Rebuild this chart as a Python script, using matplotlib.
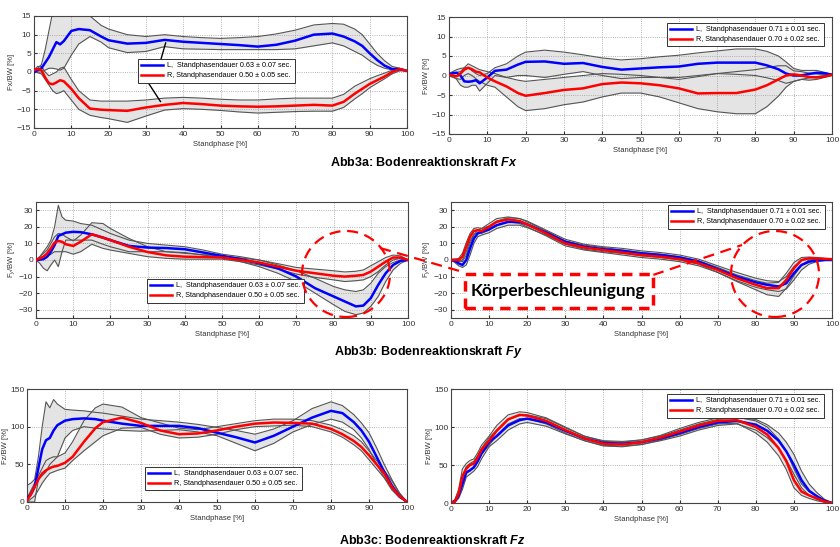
import matplotlib
matplotlib.use("Agg")
import matplotlib.pyplot as plt
from matplotlib.lines import Line2D
from matplotlib.patches import Ellipse, Rectangle

plt.rcParams['font.family'] = ['Liberation Sans', 'DejaVu Sans']
plt.rcParams['mathtext.fontset'] = 'custom'
plt.rcParams['mathtext.rm'] = 'Liberation Sans'
plt.rcParams['mathtext.it'] = 'Liberation Sans:italic'
plt.rcParams['mathtext.bf'] = 'Liberation Sans:bold'
plt.rcParams['mathtext.bfit'] = 'Liberation Sans:italic:bold'

# stance phase grid [%]
phase = [0, 1, 2, 3, 4, 5, 6, 7, 8, 10, 12, 15, 18, 20, 25, 30, 35, 40, 45, 50,
         55, 60, 65, 70, 75, 80, 83, 86, 88, 90, 92, 94, 96, 98, 100]

# --- Fx, left group
fx1_L = [0, 0.5, 1, 2.5, 4, 6, 8, 7.4, 8.3, 11, 11.5, 11.2, 9.5, 8.5, 7.6, 7.8, 8.6, 8.1, 7.8, 7.5,
         7.2, 6.8, 7.3, 8.4, 10, 10.3, 9.5, 8.2, 7, 5, 3.2, 1.7, 0.8, 0.8, 0.3]
fx1_L_hi = [0.2, 1, 2, 6, 11, 16, 17, 17, 17, 16, 16, 15, 12.5, 11.5, 10, 9.5, 10, 9.5, 9.2, 9,
            9.2, 9.5, 10.2, 11.2, 12.6, 13, 12.8, 11.5, 10, 7.5, 5, 3, 1.5, 1, 0.3]
fx1_L_lo = [0, 0, 0, 0.5, 1, 1, 0.8, 0.5, 1, 4.5, 7.5, 9.5, 8, 6.5, 5.2, 5.5, 6.8, 6.2, 6.1, 6,
            6, 6, 6, 6.2, 7, 7.8, 7, 5.5, 4.5, 3, 1.8, 1, 0.6, 0.5, 0.3]
fx1_R = [0.5, 0.8, 0.5, -1.5, -3, -3.3, -2.8, -2.2, -2.5, -4.5, -7, -9.8, -10.1, -10.2, -10.4, -9.5, -8.8, -8.3, -8.6, -9,
         -9.2, -9.3, -9.2, -9, -8.8, -9, -8, -5.8, -4.5, -3.2, -2.2, -1.2, 0, 0.8, 0.3]
fx1_R_hi = [0.6, 1.5, 1.5, 0, -1, -0.5, 0, 1, 1.3, -2, -5, -7.5, -7.8, -7.8, -7.8, -7.5, -7, -6.8, -7, -7.3,
            -7.5, -7.5, -7.2, -7, -7, -7, -6, -3.8, -2.8, -1.8, -1, -0.3, 0.5, 1, 0.3]
fx1_R_lo = [0, -0.2, -0.5, -2, -3.5, -5, -5.8, -5.5, -5, -7.5, -10, -11.6, -12.2, -12.5, -13.5, -11.8, -10.2, -9.8, -10, -10.3,
            -10.7, -11, -10.8, -10.6, -10.5, -10.5, -9.5, -7.2, -5.8, -4.2, -3, -1.8, -0.5, 0.3, 0.3]

# --- Fx, right group
fx2_L = [0.3, 0.6, 0.7, 0, -1.5, -1.6, -1.5, -1.2, -2, -0.5, 1.2, 1.5, 2.8, 3.5, 3.6, 3, 3.2, 2.2, 1.5, 1.8,
         2.1, 2.3, 3, 3.3, 3.3, 3.3, 2.6, 1.6, 0.5, 0, 0, 0.4, 0.7, 0.6, 0.2]
fx2_L_hi = [0.5, 1, 1.5, 1.8, 2, 2, 1.2, 0.5, 0, 0.5, 2, 3, 5, 6, 6.5, 6, 5.3, 4.5, 4, 4.3,
            4.8, 5.2, 5.8, 6.3, 6.8, 6.8, 6.2, 5, 3.5, 1.8, 1.3, 1.3, 1.3, 0.8, 0.3]
fx2_L_lo = [0.2, 0, -1, -2.5, -3, -3, -2.5, -2.5, -4, -2, 0, -0.5, 0, 0, -0.5, 0.3, 1, 0, -0.8, -0.5,
            -0.5, -0.5, 0, 0.5, 0.3, 0, -0.6, -1.3, -2, -1.5, -1, -0.6, -0.3, 0, 0.2]
fx2_R = [0.2, 0, -0.2, 0.5, 1.5, 2, 1.6, 1, 0.8, -0.5, -1.5, -2.8, -4.5, -5.2, -4.5, -3.7, -3.3, -2.2, -1.8, -2,
         -2.5, -3.3, -4.6, -4.5, -4.5, -3.6, -2.5, -1, 0, 0.3, 0, -0.4, -0.5, -0.3, 0.2]
fx2_R_hi = [0.3, 0.5, 0.8, 1, 2, 3, 2.5, 2, 1.5, 1, 0.5, -0.5, -1.2, -1.5, -1, -0.5, 0, 0.5, 0.3, 0,
            -0.5, -1, -0.3, 0.5, 1, 1.5, 2, 2.5, 2.5, 1.2, 1, 0.6, 0.4, 0.3, 0.3]
fx2_R_lo = [0, -0.5, -0.8, -1, 0, 0.5, 0, -0.8, -1.5, -2.5, -3, -5.5, -8, -9, -8.5, -7.5, -6.8, -5.5, -4.5, -4.5,
            -5.5, -7, -8.5, -9.3, -9.8, -9.8, -8, -5.3, -3, -1.5, -1, -1.2, -1, -0.5, 0]

# --- Fy, left group
fy1_L = [0, 0.2, 0.5, 2, 5, 9, 14.5, 15.5, 16.5, 17, 16.8, 15.5, 13.5, 12, 8.5, 7.5, 7.2, 6.5, 4.5, 2.5,
         0.5, -2, -5, -10, -17, -22, -25, -28, -27.5, -23, -15, -8, -3, -0.5, 0]
fy1_L_hi = [0, 2, 5, 8, 12, 20, 33, 26, 24, 23.5, 22, 21, 18, 16, 12, 10, 9, 8, 6, 3.5,
            2, 0, -3, -6.5, -11, -16, -18, -19, -18, -14, -8, -4, -1.5, 0, 0]
fy1_L_lo = [0, -2, -5, -6.5, -3, 0, -4, 5, 12, 12, 12, 12, 9.5, 8, 5, 5, 5, 4.5, 3, 1.5,
            -1, -4, -8, -13, -20, -27, -31, -33, -32, -28, -22, -13, -6, -2, 0]
fy1_R = [0, 1, 2, 4, 7, 10.5, 11.5, 11, 9.5, 8.5, 11, 15.5, 13.5, 12, 8, 4.8, 2.8, 2, 1.8, 1.5,
         0, -1.5, -4, -6.5, -8, -9.5, -10, -9.5, -9, -7, -4, -1, 1.5, 1.5, 0]
fy1_R_hi = [0, 2, 4, 6, 10, 14, 16, 15.5, 14, 11.5, 15, 22.5, 22, 19, 13, 8, 5, 4, 3.2, 2.5,
            1.2, 0, -2.2, -4.5, -5.5, -6.5, -7.2, -6.8, -6, -3.5, -1, 1.5, 3, 2.5, 0]
fy1_R_lo = [0, 0.5, 1, 2, 3.5, 5, 5, 5, 5, 3.5, 5, 9.5, 7, 6, 4, 2, 1, 0.5, 0.5, 0.5,
            -1, -3, -5.5, -8.5, -10.5, -12, -13, -12.5, -12, -10, -7, -3, 0, 1, 0]

# --- Fy, right group
fy2_L = [0, -0.5, -2, -3, 0, 7, 13, 16, 17, 18.5, 21, 23, 23, 21.5, 16.5, 11, 8, 6.5, 5.5, 4,
         3, 1.5, -1, -5.5, -10, -13.5, -15, -16, -14, -8, -3, -1, -0.3, 0, 0]
fy2_L_hi = [0.3, 0.5, -0.5, -1, 3, 10, 15, 18, 19, 20.5, 23.5, 25.5, 25, 23.5, 18, 12.5, 9.5, 8, 7, 5.5,
            4.5, 3, 0.5, -3.5, -7.5, -11, -12.5, -13, -10, -4, 0, 0.8, 0.5, 0.3, 0.2]
fy2_L_lo = [0, -1.5, -3.5, -4.5, -3, 3, 10, 14, 15, 16.5, 19, 21, 21, 19.5, 15, 9.5, 6.5, 5, 4, 2.5,
            1.5, 0, -2.5, -7.5, -12.5, -16.5, -18, -19, -17.5, -12, -6, -2.5, -1, -0.3, 0]
fy2_R = [0, 0, 0, 2, 8, 14, 17.5, 18, 17.5, 20, 23, 24.5, 23.5, 21.5, 16, 10, 7.5, 6, 4.5, 3,
         2, 0.5, -2, -6, -11, -15, -17, -17, -12, -5, 0, 1, 1, 0.7, 0.5]
fy2_R_hi = [0.3, 0.5, 1, 4, 10.5, 16, 19, 19.5, 19, 22, 25, 26, 25, 23, 17.5, 11.5, 9, 7.5, 6, 4.5,
            3.5, 2, -0.5, -4.5, -9, -12.5, -14, -13.5, -8, -1.5, 1.5, 1.8, 1.5, 1, 0.6]
fy2_R_lo = [0, -0.5, -1, 0, 5, 11.5, 15.5, 16.5, 16, 18, 21, 23, 22, 20, 14.5, 8.5, 6, 4.5, 3, 1.5,
            0.5, -1, -3.5, -7.5, -13, -18, -21, -22, -17, -9.5, -3, 0, 0.5, 0.4, 0.3]

# --- Fz, left group
fz1_L = [5, 10, 20, 45, 70, 82, 85, 95, 102, 108, 110, 111, 110, 108, 104, 101, 101, 101, 98, 92,
         86, 79, 88, 100, 112, 121, 118, 106, 95, 80, 60, 40, 22, 8, 0]
fz1_L_hi = [22, 25, 30, 60, 100, 133, 125, 136, 130, 123, 122, 121, 119, 118, 114, 110, 108, 106, 103, 99,
            95, 90, 97, 108, 124, 133, 128, 116, 105, 92, 72, 50, 30, 12, 0]
fz1_L_lo = [0, 0, 0, 30, 35, 40, 50, 55, 60, 85, 95, 100, 98, 97, 95, 94, 95, 96, 93, 88,
            78, 68, 78, 93, 103, 110, 106, 96, 85, 70, 50, 33, 18, 6, 0]
fz1_R = [2, 10, 20, 30, 38, 42, 45, 47, 48, 52, 60, 80, 98, 106, 112, 105, 95, 90, 91, 95,
         100, 104, 105.5, 105, 104, 97, 90, 81, 73, 62, 50, 38, 20, 8, 0]
fz1_R_hi = [5, 15, 25, 35, 45, 55, 58, 60, 60, 65, 80, 108, 125, 130, 126, 112, 105, 98, 96, 100,
            104, 108, 110, 110, 108, 102, 96, 88, 80, 68, 55, 42, 28, 12, 0]
fz1_R_lo = [0, 4, 8, 16, 25, 32, 38, 40, 42, 45, 55, 68, 80, 88, 98, 99, 90, 85, 86, 90,
            96, 100, 101, 102, 100, 93, 86, 76, 68, 56, 44, 32, 16, 6, 0]

# --- Fz, right group
fz2_L = [0, 2, 10, 25, 40, 43, 47, 55, 65, 80, 88, 102, 109, 111, 106, 95, 85, 79, 78, 80,
         85, 92, 100, 106, 108, 103, 95, 82, 68, 50, 30, 16, 9, 3, 0]
fz2_L_hi = [1, 4, 15, 35, 48, 52, 55, 62, 72, 86, 96, 110, 115, 116, 111, 99, 88, 82, 81, 83,
            88, 96, 104, 110, 112, 110, 103, 92, 80, 64, 42, 25, 14, 5, 0.5]
fz2_L_lo = [0, 1, 6, 18, 34, 38, 42, 48, 58, 74, 82, 96, 104, 106, 101, 91, 82, 76, 75, 77,
            82, 88, 96, 102, 104, 96, 86, 72, 57, 38, 20, 10, 5, 1.5, 0]
fz2_R = [0, 2, 12, 35, 45, 50, 52, 60, 70, 82, 95, 110, 116, 115, 108, 96, 85, 78, 77, 80,
         86, 94, 102, 108, 109, 100, 90, 72, 55, 30, 15, 10, 6, 2, 0]
fz2_R_hi = [1, 4, 18, 45, 52, 56, 58, 66, 76, 88, 102, 116, 120, 119, 112, 100, 88, 81, 80, 83,
            89, 98, 106, 112, 113, 108, 100, 84, 68, 45, 25, 15, 9, 3, 0.5]
fz2_R_lo = [0, 1, 8, 28, 40, 44, 46, 54, 64, 76, 89, 104, 111, 111, 104, 92, 82, 75, 74, 77,
            83, 90, 98, 104, 105, 92, 80, 62, 44, 20, 10, 6, 3, 1, 0]

leg_left = ['L,  Standphasendauer 0.63 ± 0.07 sec.', 'R, Standphasendauer 0.50 ± 0.05 sec.']
leg_right = ['L,  Standphasendauer 0.71 ± 0.01 sec.', 'R, Standphasendauer 0.70 ± 0.02 sec.']

W, H = 840, 547


def rect(l, r, t, b):
    return [l / W, 1 - b / H, (r - l) / W, (b - t) / H]


def fpt(x, y):
    return (x / W, 1 - y / H)


def panel(ax, L, Llo, Lhi, R, Rlo, Rhi, ylim, yticks, ylabel, labels, legpos):
    for lo, hi in [(Llo, Lhi), (Rlo, Rhi)]:
        ax.fill_between(phase, lo, hi, color='#e4e4e4', lw=0, zorder=1)
    for lo, hi in [(Llo, Lhi), (Rlo, Rhi)]:
        ax.plot(phase, lo, color='#555555', lw=0.8, zorder=2)
        ax.plot(phase, hi, color='#555555', lw=0.8, zorder=2)
    ax.plot(phase, L, color='#0000ff', lw=1.8, zorder=3)
    ax.plot(phase, R, color='#ff0000', lw=1.8, zorder=3)
    ax.set_xlim(0, 100)
    ax.set_ylim(*ylim)
    ax.set_xticks(range(0, 101, 10))
    ax.set_yticks(yticks)
    ax.grid(True, ls=':', color='#9a9a9a', lw=0.6)
    ax.tick_params(direction='in', labelsize=6, colors='#333333', length=2, pad=2)
    for s in ax.spines.values():
        s.set_color('#444444')
        s.set_linewidth(0.8)
    ax.set_xlabel('Standphase [%]', fontsize=5.5, color='#333333', labelpad=2)
    ax.set_ylabel(ylabel, fontsize=5.5, color='#333333', labelpad=1)
    handles = [Line2D([], [], color='#0000ff', lw=1.8), Line2D([], [], color='#ff0000', lw=1.8)]
    leg = ax.legend(handles, labels, loc='upper left', bbox_to_anchor=legpos, borderaxespad=0,
                    fontsize=5.2, handlelength=3.0, handletextpad=0.6, labelspacing=0.4,
                    borderpad=0.45, fancybox=False, framealpha=1, edgecolor='#333333')
    leg.get_frame().set_linewidth(0.7)
    leg.set_zorder(5)


fig = plt.figure(figsize=(8.4, 5.47), dpi=100)

ax1 = fig.add_axes(rect(34, 407, 16, 128))
panel(ax1, fx1_L, fx1_L_lo, fx1_L_hi, fx1_R, fx1_R_lo, fx1_R_hi, (-15, 15), range(-15, 16, 5),
      'Fx/BW [%]', leg_left, (0.279, 0.616))
# pointer lines from legend to the curves
ax1.plot([35.3, 33.9], [7.8, 2.9], color='black', lw=1, zorder=4)
ax1.plot([30.7, 33.9], [-3.0, -7.9], color='black', lw=1, zorder=4)

ax2 = fig.add_axes(rect(449, 832, 17, 134))
panel(ax2, fx2_L, fx2_L_lo, fx2_L_hi, fx2_R, fx2_R_lo, fx2_R_hi, (-15, 15), range(-15, 16, 5),
      'Fx/BW [%]', leg_right, (0.569, 0.949))

ax3 = fig.add_axes(rect(36, 408, 202, 318))
panel(ax3, fy1_L, fy1_L_lo, fy1_L_hi, fy1_R, fy1_R_lo, fy1_R_hi, (-35, 35), range(-30, 31, 10),
      r'F$_y$/BW [%]', leg_left, (0.298, 0.336))

ax4 = fig.add_axes(rect(451, 832, 202, 318))
panel(ax4, fy2_L, fy2_L_lo, fy2_L_hi, fy2_R, fy2_R_lo, fy2_R_hi, (-35, 35), range(-30, 31, 10),
      r'F$_y$/BW [%]', leg_right, (0.570, 0.974))

ax5 = fig.add_axes(rect(27, 407, 389, 502))
panel(ax5, fz1_L, fz1_L_lo, fz1_L_hi, fz1_R, fz1_R_lo, fz1_R_hi, (0, 150), [0, 50, 100, 150],
      'Fz/BW [%]', leg_left, (0.311, 0.31))

ax6 = fig.add_axes(rect(451, 832, 389, 503))
panel(ax6, fz2_L, fz2_L_lo, fz2_L_hi, fz2_R, fz2_R_lo, fz2_R_hi, (0, 150), [0, 50, 100, 150],
      'Fz/BW [%]', leg_right, (0.567, 0.956))

# red dashed highlight: circles, connectors and label box
red = '#ff0000'
for cx in (346, 775):
    fig.add_artist(Ellipse(fpt(cx, 274), 88 / W, 86 / H, transform=fig.transFigure,
                           fill=False, edgecolor=red, lw=1.6, ls=(0, (5, 3)), zorder=10))
for (x0, y0), (x1, y1) in [((380, 248), (463, 272)), ((653, 275), (742, 245))]:
    fig.add_artist(Line2D([x0 / W, x1 / W], [1 - y0 / H, 1 - y1 / H], transform=fig.transFigure,
                          color=red, lw=1.6, ls=(0, (5, 3)), zorder=10))
fig.add_artist(Rectangle(fpt(465, 308), 188 / W, 34 / H, transform=fig.transFigure,
                         facecolor='white', edgecolor=red, lw=2.5, ls=(0, (3, 2)), zorder=10))
fig.text(*fpt(558, 291), 'Körperbeschleunigung', ha='center', va='center', fontsize=12.5,
         fontweight='bold', family=['Lato', 'DejaVu Sans'], zorder=11)

# captions
cap = dict(ha='center', va='center', fontsize=9, fontweight='bold')
fig.text(*fpt(424, 162), r'Abb3a: Bodenreaktionskraft $\mathbfit{Fx}$', **cap)
fig.text(*fpt(428, 352), r'Abb3b: Bodenreaktionskraft $\mathbfit{Fy}$', **cap)
fig.text(*fpt(432, 540), r'Abb3c: Bodenreaktionskraft $\mathbfit{Fz}$', **cap)

fig.savefig('out.png', dpi=100)
